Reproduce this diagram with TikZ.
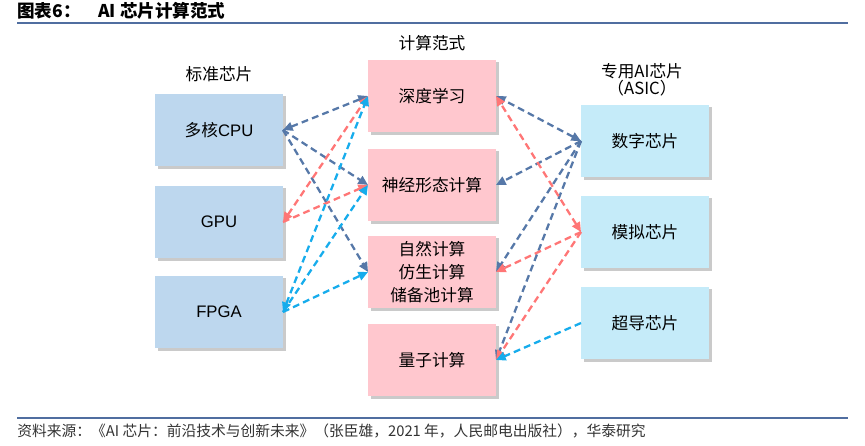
\documentclass[tikz,border=0pt]{standalone}
\usepackage{fontspec}
\setmainfont{Liberation Sans}
\newfontfamily\cjk{Noto Sans CJK SC}
\usetikzlibrary{positioning,arrows.meta,shadows}

\definecolor{stdblue}{RGB}{189,215,238}
\definecolor{parapink}{RGB}{255,199,206}
\definecolor{asiccyan}{RGB}{197,235,249}
\definecolor{linkdark}{RGB}{86,120,168}
\definecolor{linkred}{RGB}{255,118,118}
\definecolor{linkcyan}{RGB}{22,172,236}
\definecolor{rulecol}{RGB}{80,110,160}

\begin{document}
\begin{tikzpicture}[
  x=0.02cm, y=-0.02cm,
  >={Triangle[length=5.5pt,width=5pt]},
  box/.style={minimum width=2.56cm, minimum height=1.46cm, inner sep=0pt, outer sep=0pt,
    align=center, font=\fontsize{9.5}{13}\selectfont,
    drop shadow={shadow xshift=1.5pt, shadow yshift=-1.5pt, opacity=0.35, fill=black!60}},
  chip/.style={box, fill=stdblue},
  para/.style={box, fill=parapink, font=\cjk\fontsize{9.5}{13}\selectfont},
  asic/.style={box, fill=asiccyan, font=\cjk\fontsize{9.5}{13}\selectfont},
  head/.style={align=center, font=\cjk\fontsize{9.5}{9.5}\selectfont},
  link/.style={dashed, dash pattern=on 3.9pt off 2.4pt, line width=1.3pt, ->},
  linkboth/.style={link, <->},
  rule/.style={rulecol, line width=1.3pt}
]
  \useasboundingbox (0,0) rectangle (865,446);

  % title and rules
  \node[anchor=west, inner sep=0pt, font=\cjk\bfseries\fontsize{10}{12}\selectfont] (title) at (17,11) {图表6：\quad AI 芯片计算范式};
  \coordinate (rtl) at (17,23);
  \coordinate (rtr) at (848,23);
  \coordinate (rbl) at (17,418);
  \coordinate (rbr) at (848,418);
  \draw[rule] (rtl) -- (rtr);
  \draw[rule] (rbl) -- (rbr);

  % column heads
  \node[head] (stdhead)  at (219,74) {标准芯片};
  \node[head] (parahead) at (432,43) {计算范式};
  \node[head] (asichead) at (642,80) {专用AI芯片\\（ASIC）};

  % standard chips
  \node[chip] (cpu)  at (219,130) {{\cjk 多核}CPU};
  \node[chip] (gpu)  at (219,222) {GPU};
  \node[chip] (fpga) at (219,312) {FPGA};

  % computing paradigms
  \node[para] (deep)    at (432,96)  {深度学习};
  \node[para] (neuro)   at (432,185) {神经形态计算};
  \node[para] (nature)  at (432,272) {自然计算\\仿生计算\\储备池计算};
  \node[para] (quantum) at (432,360) {量子计算};

  % asic chips
  \node[asic] (digital) at (645,141) {数字芯片};
  \node[asic] (analog)  at (645,232) {模拟芯片};
  \node[asic] (super)   at (645,323) {超导芯片};

  % left links
  \draw[linkboth, linkdark] (cpu.east) -- (deep.west);
  \draw[link, linkdark] (cpu.east) -- (neuro.west);
  \draw[link, linkdark] (cpu.east) -- (nature.west);
  \draw[linkboth, linkred] (gpu.east) -- (deep.west);
  \draw[link, linkred] (gpu.east) -- (neuro.west);
  \draw[linkboth, linkcyan] (fpga.east) -- (deep.west);
  \draw[link, linkcyan] (fpga.east) -- (neuro.west);
  \draw[link, linkcyan] (fpga.east) -- (nature.west);

  % right links
  \draw[linkboth, linkdark] (digital.west) -- (deep.east);
  \draw[link, linkdark] (digital.west) -- (neuro.east);
  \draw[link, linkdark] (digital.west) -- (nature.east);
  \draw[link, linkdark] (digital.west) -- (quantum.east);
  \draw[linkboth, linkred] (analog.west) -- (deep.east);
  \draw[link, linkred] (analog.west) -- (nature.east);
  \draw[link, linkred] (analog.west) -- (quantum.east);
  \draw[link, linkcyan] (super.west) -- (quantum.east);

  % source
  \node[anchor=west, inner sep=0pt, text=black!80, font=\cjk\fontsize{8.4}{10}\selectfont] (source) at (17,431)
    {资料来源：《AI 芯片：前沿技术与创新未来》（张臣雄，2021 年，人民邮电出版社），华泰研究};
\end{tikzpicture}
\end{document}
